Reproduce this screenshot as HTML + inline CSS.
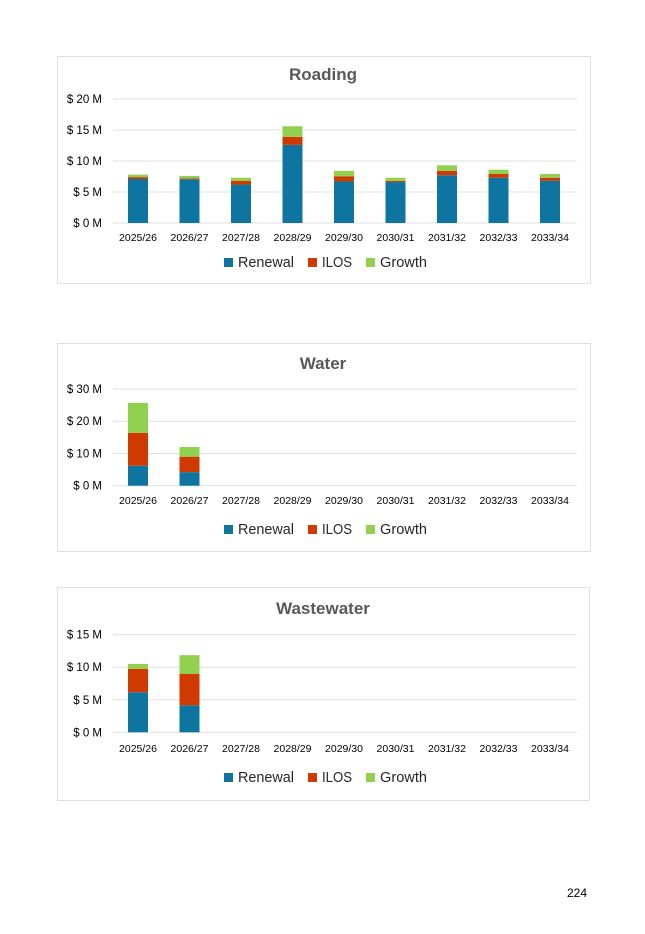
<!DOCTYPE html>
<html><head><meta charset="utf-8"><style>
html,body{margin:0;padding:0;background:#fff;width:645px;height:934px;overflow:hidden}
svg{display:block}
</style></head><body>
<svg id="s" width="645" height="934" xmlns="http://www.w3.org/2000/svg" font-family="Liberation Sans, sans-serif"></svg>
<script>
const cats=["2025/26","2026/27","2027/28","2028/29","2029/30","2030/31","2031/32","2032/33","2033/34"];
const C=["#0E74A0","#D03A00","#92D050"];
const charts=[
 {box:[57,56,533,227],title:"Roading",ty:80,y0:223,yTop:99,max:20,step:5,lab:237,leg:267,
  d:[[7.1,7.4,7.8],[7.05,7.2,7.6],[6.2,6.8,7.3],[12.6,13.9,15.6],[6.7,7.5,8.4],[6.6,6.8,7.3],[7.7,8.4,9.3],[7.3,7.9,8.6],[6.8,7.3,7.9]]},
 {box:[57,343,533,208],title:"Water",ty:369,y0:485.7,yTop:389,max:30,step:10,lab:500,leg:534,
  d:[[6.2,16.4,25.7],[4.2,9.0,12.0]]},
 {box:[57,587,532,213],title:"Wastewater",ty:614,y0:732.3,yTop:634.7,max:15,step:5,lab:748,leg:782,
  d:[[6.15,9.75,10.5],[4.15,9.0,11.85]]}
];
let h='';
for(const c of charts){
 const [bx,by,bw,bh]=c.box;
 h+=`<rect x="${bx+.5}" y="${by+.5}" width="${bw}" height="${bh}" fill="#fff" stroke="#e0e0e0"/>`;
 h+=`<text x="323" y="${c.ty}" text-anchor="middle" font-size="17" font-weight="bold" fill="#595959">${c.title}</text>`;
 const k=(c.y0-c.yTop)/c.max;
 for(let v=0;v<=c.max;v+=c.step){const y=c.y0-v*k;
  h+=`<line x1="113" x2="577" y1="${y}" y2="${y}" stroke="#e0e0e0" stroke-width="1"/>`;
  h+=`<text x="102" y="${y+4}" text-anchor="end" font-size="11.5" fill="#000">$ ${v} M</text>`;}
 cats.forEach((t,i)=>{const x=138+i*51.5;
  h+=`<text x="${x}" y="${c.lab+4}" text-anchor="middle" font-size="10.5" fill="#000">${t}</text>`;
  const d=c.d[i]; if(d){let prev=0;d.forEach((v,j)=>{const y1=c.y0-v*k,y2=c.y0-prev*k;
   h+=`<rect x="${x-10}" y="${y1}" width="20" height="${y2-y1}" fill="${C[j]}"/>`;prev=v;});}
 });
 const L=[["Renewal",224,56],["ILOS",308,30],["Growth",366,47]];
 L.forEach((l,j)=>{h+=`<rect x="${l[1]}" y="${c.leg-9}" width="9" height="9" fill="${C[j]}"/>`;
  h+=`<text x="${l[1]+14}" y="${c.leg}" font-size="15" textLength="${l[2]}" lengthAdjust="spacingAndGlyphs" fill="#262626">${l[0]}</text>`;});
}
h+=`<text x="587" y="897" text-anchor="end" font-size="12" fill="#000">224</text>`;
document.getElementById('s').innerHTML=h;
</script>
</body></html>
